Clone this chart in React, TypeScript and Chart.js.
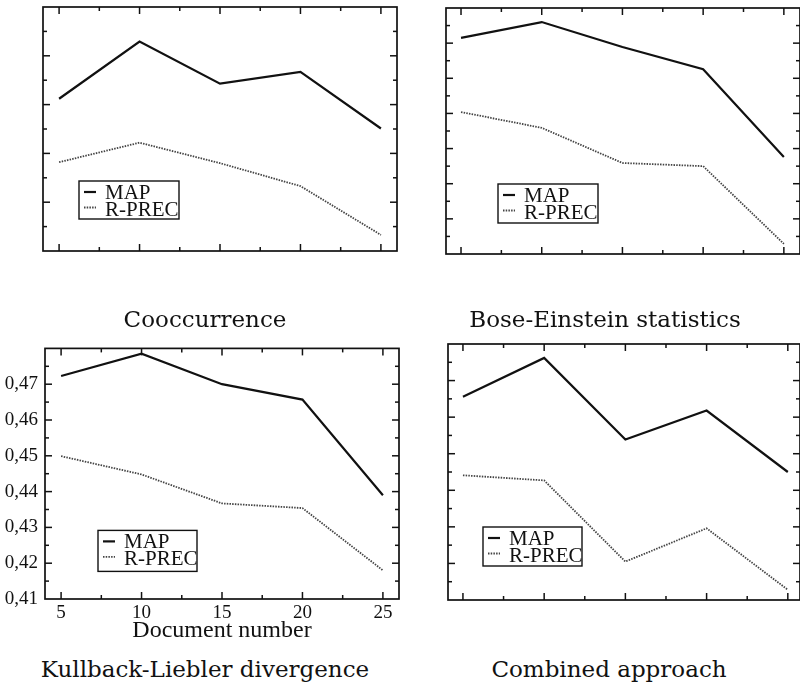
import React, { useEffect, useRef } from 'react';
import { Chart, registerables } from 'chart.js';

Chart.register(...registerables);

// ---- data ----
const DOC_NUMBERS = [5, 10, 15, 20, 25];
const X_MAJOR_TICKS = [5, 10, 15, 20, 25];
const X_MINOR_TICKS = [7.5, 12.5, 17.5, 22.5];

const COOC_MAP = [0.4312, 0.4429, 0.4343, 0.4367, 0.4251];
const COOC_RPREC = [0.4182, 0.4222, 0.418, 0.4133, 0.4033];
const BOSE_MAP = [0.4515, 0.456, 0.4489, 0.4426, 0.4176];
const BOSE_RPREC = [0.4304, 0.4259, 0.4159, 0.415, 0.3929];
const KL_MAP = [0.4723, 0.4785, 0.47, 0.4657, 0.439];
const KL_RPREC = [0.4499, 0.4448, 0.4367, 0.4354, 0.418];
const COMB_MAP = [0.4656, 0.4762, 0.4539, 0.4618, 0.445];
const COMB_RPREC = [0.4441, 0.4427, 0.4205, 0.4296, 0.4128];

const SERIES_LABELS = ['MAP', 'R-PREC'];
const PANEL_TITLES = ['Cooccurrence', 'Bose-Einstein statistics', 'Kullback-Liebler divergence', 'Combined approach'];
const X_AXIS_TITLE = 'Document number';

const KL_Y_LABELS = [0.41, 0.42, 0.43, 0.44, 0.45, 0.46, 0.47];

const COOC_Y_MAJOR = [0.41, 0.42, 0.43, 0.44];
const COOC_Y_MINOR = [0.405, 0.415, 0.425, 0.435, 0.445];
const BOSE_Y_MAJOR = [0.4, 0.41, 0.42, 0.43, 0.44, 0.45];
const BOSE_Y_MINOR = [0.395, 0.405, 0.415, 0.425, 0.435, 0.445, 0.455];
const LOW_Y_MAJOR = [0.42, 0.43, 0.44, 0.45, 0.46, 0.47];
const LOW_Y_MINOR = [0.415, 0.425, 0.435, 0.445, 0.455, 0.465, 0.475];

// ---- plugin: frame, inward ticks, legend box ----
const framePlugin = {
  id: 'frameTicks',
  afterDatasetsDraw(chart: any, _args: any, opts: any) {
    const { ctx, chartArea: a, scales } = chart;
    const xs = scales.x;
    const ys = scales.y;
    ctx.save();
    ctx.strokeStyle = '#111111';
    ctx.lineWidth = 1.7;
    ctx.strokeRect(a.left, a.top, a.right - a.left, a.bottom - a.top);
    const seg = (x1: number, y1: number, x2: number, y2: number) => {
      ctx.beginPath();
      ctx.moveTo(x1, y1);
      ctx.lineTo(x2, y2);
      ctx.stroke();
    };
    const xTicks = (vals: number[], len: number) => {
      vals.forEach((v) => {
        const p = xs.getPixelForValue(v);
        seg(p, a.bottom, p, a.bottom - len);
        seg(p, a.top, p, a.top + len);
      });
    };
    const yTicks = (vals: number[], len: number) => {
      vals.forEach((v) => {
        const p = ys.getPixelForValue(v);
        seg(a.left, p, a.left + len, p);
        seg(a.right, p, a.right - len, p);
      });
    };
    ctx.lineWidth = 1.5;
    xTicks(opts.xMajor, 7);
    xTicks(opts.xMinor, 4);
    yTicks(opts.yMajor, 7);
    yTicks(opts.yMinor, 4);

    // legend box
    const lg = opts.legend;
    const bx = a.left + lg.dx;
    const by = a.top + lg.dy;
    ctx.lineWidth = 1.4;
    ctx.strokeStyle = '#111111';
    ctx.strokeRect(bx, by, lg.w, lg.h);
    ctx.font = '21px "Liberation Serif"';
    ctx.fillStyle = '#111111';
    ctx.textBaseline = 'alphabetic';
    chart.data.datasets.forEach((ds: any, i: number) => {
      const ly = by + 11 + i * 15.5;
      ctx.save();
      ctx.strokeStyle = ds.borderColor;
      ctx.lineWidth = ds.borderWidth;
      ctx.setLineDash(ds.borderDash || []);
      seg(bx + 5, ly, bx + 17, ly);
      ctx.restore();
      ctx.fillText(ds.label, bx + 26, by + 18 + i * 16.5);
    });
    ctx.restore();
  },
};

type PanelSpec = {
  map: number[];
  rprec: number[];
  xMin: number;
  xMax: number;
  yMin: number;
  yMax: number;
  yMajor: number[];
  yMinor: number[];
  padding: { top: number; right: number; left: number; bottom: number };
  yWidth: number;
  xHeight: number;
  legend: { dx: number; dy: number; w: number; h: number };
  labels: boolean;
};

function makeConfig(p: PanelSpec): any {
  const tickFont = { family: '"Liberation Serif"', size: 19 };
  return {
    type: 'line',
    data: {
      datasets: [
        {
          label: SERIES_LABELS[0],
          data: DOC_NUMBERS.map((x, i) => ({ x, y: p.map[i] })),
          borderColor: '#111111',
          borderWidth: 2.2,
          pointRadius: 0,
          tension: 0,
          fill: false,
        },
        {
          label: SERIES_LABELS[1],
          data: DOC_NUMBERS.map((x, i) => ({ x, y: p.rprec[i] })),
          borderColor: '#444444',
          borderWidth: 1.8,
          borderDash: [1.5, 1.2],
          pointRadius: 0,
          tension: 0,
          fill: false,
        },
      ],
    },
    options: {
      responsive: false,
      animation: false,
      events: [],
      layout: { padding: p.padding },
      plugins: {
        legend: { display: false },
        tooltip: { enabled: false },
        frameTicks: {
          xMajor: X_MAJOR_TICKS,
          xMinor: X_MINOR_TICKS,
          yMajor: p.yMajor,
          yMinor: p.yMinor,
          legend: p.legend,
        },
      },
      scales: {
        x: {
          type: 'linear',
          min: p.xMin,
          max: p.xMax,
          grid: { display: false, drawTicks: false },
          border: { display: false },
          afterBuildTicks: (s: any) => {
            s.ticks = X_MAJOR_TICKS.map((v) => ({ value: v }));
          },
          afterFit: (s: any) => {
            s.height = p.xHeight;
          },
          ticks: {
            display: p.labels,
            color: '#111111',
            font: tickFont,
            padding: 3,
            maxRotation: 0,
            autoSkip: false,
          },
          title: {
            display: p.labels,
            text: X_AXIS_TITLE,
            color: '#111111',
            font: { family: '"Liberation Serif"', size: 24 },
            padding: { top: 0, bottom: 0 },
          },
        },
        y: {
          type: 'linear',
          min: p.yMin,
          max: p.yMax,
          grid: { display: false, drawTicks: false },
          border: { display: false },
          afterBuildTicks: (s: any) => {
            s.ticks = KL_Y_LABELS.map((v) => ({ value: v }));
          },
          afterFit: (s: any) => {
            s.width = p.yWidth;
          },
          ticks: {
            display: p.labels,
            color: '#111111',
            font: tickFont,
            padding: 7,
            autoSkip: false,
            callback: (v: number) => v.toFixed(2).replace('.', ','),
          },
        },
      },
    },
    plugins: [framePlugin],
  };
}

function Panel({ left, top, width, height, spec }: { left: number; top: number; width: number; height: number; spec: PanelSpec }) {
  const ref = useRef<HTMLCanvasElement>(null);
  useEffect(() => {
    const chart = new Chart(ref.current as HTMLCanvasElement, makeConfig(spec));
    return () => chart.destroy();
  }, []);
  return (
    <canvas
      ref={ref}
      width={width}
      height={height}
      style={{ position: 'absolute', left, top, width, height, display: 'block' }}
    />
  );
}

function Title({ text, cx, baseline }: { text: string; cx: number; baseline: number }) {
  return (
    <div
      style={{
        position: 'absolute',
        left: cx - 200,
        width: 400,
        top: baseline - 19.5,
        textAlign: 'center',
        fontFamily: '"DejaVu Serif", serif',
        fontSize: 23,
        lineHeight: '23px',
        color: '#111111',
        whiteSpace: 'nowrap',
      }}
    >
      {text}
    </div>
  );
}

export default function App() {
  const specs: PanelSpec[] = [
    {
      map: COOC_MAP,
      rprec: COOC_RPREC,
      xMin: 4,
      xMax: 26,
      yMin: 0.4,
      yMax: 0.45,
      yMajor: COOC_Y_MAJOR,
      yMinor: COOC_Y_MINOR,
      padding: { top: 7, right: 3, left: 0, bottom: 0 },
      yWidth: 43,
      xHeight: 9,
      legend: { dx: 36, dy: 174, w: 100, h: 38 },
      labels: false,
    },
    {
      map: BOSE_MAP,
      rprec: BOSE_RPREC,
      xMin: 4.07,
      xMax: 26,
      yMin: 0.39,
      yMax: 0.46,
      yMajor: BOSE_Y_MAJOR,
      yMinor: BOSE_Y_MINOR,
      padding: { top: 8, right: 0, left: 0, bottom: 0 },
      yWidth: 46,
      xHeight: 6,
      legend: { dx: 52, dy: 176, w: 100, h: 39 },
      labels: false,
    },
    {
      map: KL_MAP,
      rprec: KL_RPREC,
      xMin: 4,
      xMax: 26,
      yMin: 0.41,
      yMax: 0.48,
      yMajor: LOW_Y_MAJOR,
      yMinor: LOW_Y_MINOR,
      padding: { top: 13, right: 1, left: 0, bottom: 0 },
      yWidth: 45,
      xHeight: 46,
      legend: { dx: 53, dy: 182, w: 99, h: 41 },
      labels: true,
    },
    {
      map: COMB_MAP,
      rprec: COMB_RPREC,
      xMin: 4.08,
      xMax: 25.75,
      yMin: 0.41,
      yMax: 0.48,
      yMajor: LOW_Y_MAJOR,
      yMinor: LOW_Y_MINOR,
      padding: { top: 14, right: 0, left: 0, bottom: 0 },
      yWidth: 48,
      xHeight: 45,
      legend: { dx: 35, dy: 183, w: 99, h: 39 },
      labels: false,
    },
  ];
  return (
    <div
      style={{
        position: 'fixed',
        left: 0,
        top: 0,
        width: 800,
        height: 685,
        background: '#ffffff',
        overflow: 'hidden',
      }}
    >
      <Panel left={0} top={0} width={400} height={260} spec={specs[0]} />
      <Panel left={400} top={0} width={400} height={260} spec={specs[1]} />
      <Panel left={0} top={330} width={400} height={315} spec={specs[2]} />
      <Panel left={400} top={330} width={400} height={315} spec={specs[3]} />
      <Title text={PANEL_TITLES[0]} cx={205} baseline={327} />
      <Title text={PANEL_TITLES[1]} cx={605} baseline={327} />
      <Title text={PANEL_TITLES[2]} cx={205} baseline={677} />
      <Title text={PANEL_TITLES[3]} cx={609} baseline={677} />
    </div>
  );
}
